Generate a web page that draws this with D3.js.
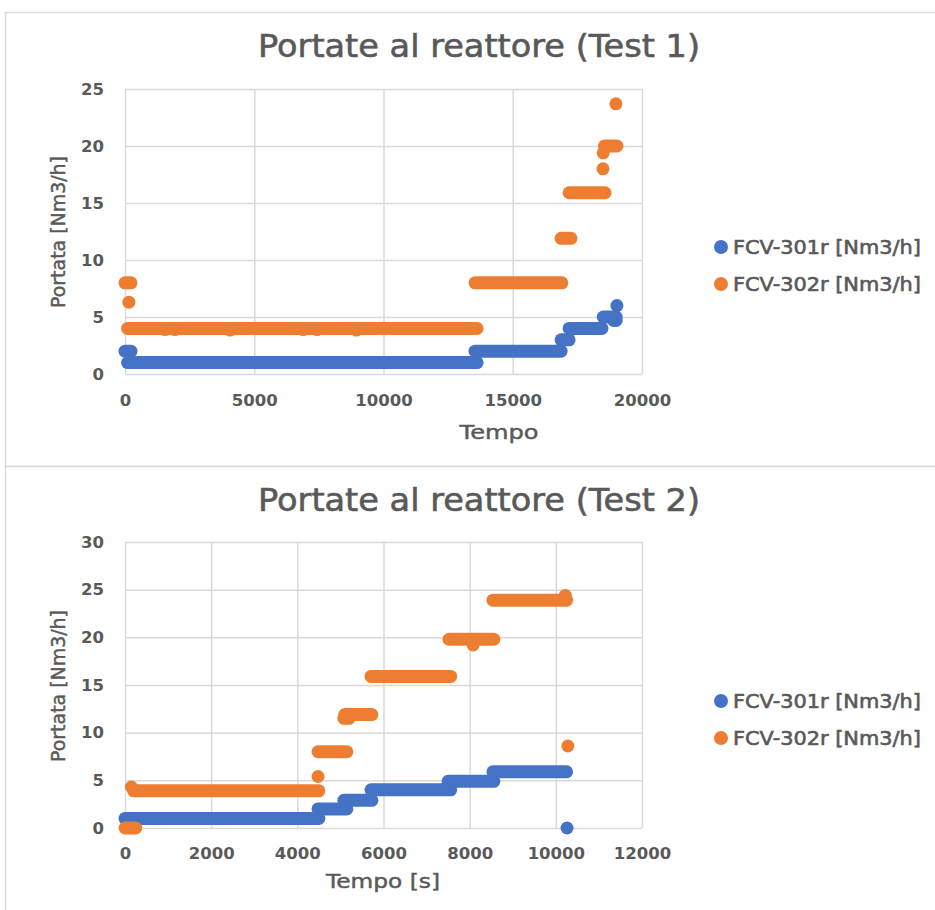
<!DOCTYPE html>
<html><head><meta charset="utf-8">
<script src="https://cdn.jsdelivr.net/npm/d3@7/dist/d3.min.js"></script>
<style>body{margin:0;background:#fff}svg{display:block}</style>
</head><body><svg id="c" width="935" height="910"></svg>
<script>
// ---------- data ----------
const seriesNames = ["FCV-301r [Nm3/h]", "FCV-302r [Nm3/h]"];
const seriesColors = ["#4472C4", "#ED7D31"];

// Runs of (near) constant readings: [tStart, tEnd, value]; single readings have tStart == tEnd
const test1Blue = [
  [0, 230, 2.0], [100, 13620, 1.0], [13540, 16870, 2.0], [16870, 17180, 3.0],
  [17180, 18450, 4.0], [18900, 19000, 4.7], [18500, 19000, 5.0], [19030, 19030, 6.0]
];
const test1Orange = [
  [0, 230, 8.0], [150, 150, 6.3], [100, 13620, 4.0],
  [1550, 1550, 3.9], [1930, 1930, 3.9], [4060, 4060, 3.85], [6890, 6890, 3.9], [7430, 7430, 3.9], [8950, 8950, 3.85],
  [13540, 16900, 8.0], [16870, 17250, 11.9], [17180, 18570, 15.9], [18490, 18490, 18.0],
  [18500, 18500, 19.4], [18550, 19030, 20.0], [18990, 18990, 23.7]
];
const test2Blue = [
  [0, 4500, 1.0], [4480, 5150, 2.0], [5080, 5730, 2.9], [5710, 7560, 4.0],
  [7500, 8560, 4.9], [8540, 10250, 5.9], [10260, 10260, 0.0]
];
const test2Orange = [
  [0, 250, 0.0], [150, 150, 4.3], [200, 4500, 3.9], [4480, 4480, 5.4], [4480, 5150, 8.0],
  [5080, 5200, 11.5], [5100, 5730, 11.9], [5710, 7560, 15.9], [7520, 8560, 19.8], [8080, 8080, 19.2],
  [8540, 10250, 23.9], [10220, 10220, 24.4], [10280, 10280, 8.6]
];
const test1XTicks = [0, 5000, 10000, 15000, 20000];
const test1YTicks = [0, 5, 10, 15, 20, 25];
const test2XTicks = [0, 2000, 4000, 6000, 8000, 10000, 12000];
const test2YTicks = [0, 5, 10, 15, 20, 25, 30];
const titles = ["Portate al reattore (Test 1)", "Portate al reattore (Test 2)"];
const xTitles = ["Tempo", "Tempo [s]"];
const yTitle = "Portata [Nm3/h]";

// ---------- drawing ----------
const svg = d3.select("#c");
const FONT = "'DejaVu Sans', sans-serif";
const TXT = "#595959";
const GRID = "#d9d9d9";

// panel frames
svg.append("rect").attr("x", 5.5).attr("y", 12.5).attr("width", 960).attr("height", 454)
  .attr("fill", "#fff").attr("stroke", GRID).attr("stroke-width", 1.5);
svg.append("rect").attr("x", 5.5).attr("y", 466.5).attr("width", 960).attr("height", 500)
  .attr("fill", "#fff").attr("stroke", GRID).attr("stroke-width", 1.5);

function heavy(sel, w) {
  return sel.attr("fill", TXT).attr("stroke", TXT).attr("stroke-width", w).style("font-family", FONT);
}

function drawChart(o) {
  const g = svg.append("g");
  const x = d3.scaleLinear().domain([o.xTicks[0], o.xTicks[o.xTicks.length - 1]]).range([125, 642]);
  const y = d3.scaleLinear().domain([o.yTicks[0], o.yTicks[o.yTicks.length - 1]]).range([o.y0, o.y1]);

  // gridlines via axes
  const gx = g.append("g").attr("transform", `translate(0,${o.y0})`)
    .call(d3.axisBottom(x).tickValues(o.xTicks).tickSize(-(o.y0 - o.y1)).tickFormat(d => d).tickPadding(20));
  const gy = g.append("g").attr("transform", `translate(125,0)`)
    .call(d3.axisLeft(y).tickValues(o.yTicks).tickSize(-(642 - 125)).tickFormat(d => d).tickPadding(21));
  [gx, gy].forEach(a => {
    a.select(".domain").remove();
    a.selectAll("line").attr("stroke", GRID).attr("stroke-width", 1.5);
    a.selectAll("text").attr("fill", TXT).style("font-family", FONT)
      .style("font-size", "16.5px").style("font-weight", "bold");
  });
  gx.selectAll("text").attr("dy", "0.35em").attr("y", o.xLabY - o.y0);

  // series
  const series = [o.blue, o.orange];
  series.forEach((runs, i) => {
    const sg = g.append("g");
    sg.selectAll("line").data(runs.filter(r => r[1] > r[0])).join("line")
      .attr("x1", d => x(d[0])).attr("x2", d => x(d[1]))
      .attr("y1", d => y(d[2])).attr("y2", d => y(d[2]))
      .attr("stroke", seriesColors[i]).attr("stroke-width", 13).attr("stroke-linecap", "round");
    sg.selectAll("circle").data(runs.filter(r => r[1] === r[0])).join("circle")
      .attr("cx", d => x(d[0])).attr("cy", d => y(d[2])).attr("r", 6.5)
      .attr("fill", seriesColors[i]);
  });

  // title
  heavy(g.append("text"), 0.6).attr("x", 479).attr("y", o.titleY).attr("text-anchor", "middle")
    .style("font-size", "32px")
    .attr("textLength", 442).attr("lengthAdjust", "spacingAndGlyphs").text(o.title);
  // x title
  heavy(g.append("text"), 0.45).attr("x", o.xTitleX).attr("y", o.xTitleY).attr("text-anchor", "middle")
    .style("font-size", "20px")
    .attr("textLength", o.xTitleLen).attr("lengthAdjust", "spacingAndGlyphs").text(o.xTitle);
  // y title
  heavy(g.append("text"), 0.45).attr("transform", `translate(65,${o.yTitleY}) rotate(-90)`).attr("text-anchor", "middle")
    .style("font-size", "20px")
    .attr("textLength", 152).attr("lengthAdjust", "spacingAndGlyphs").text(yTitle);

  // legend
  seriesNames.forEach((n, i) => {
    const ly = o.legY + i * 37;
    g.append("circle").attr("cx", 721).attr("cy", ly).attr("r", 7).attr("fill", seriesColors[i]);
    heavy(g.append("text"), 0.6).attr("x", 733).attr("y", ly).attr("dy", "0.36em")
      .style("font-size", "19px")
      .attr("textLength", 188).attr("lengthAdjust", "spacingAndGlyphs").text(n);
  });
}

drawChart({
  xTicks: test1XTicks, yTicks: test1YTicks, y0: 374, y1: 89, xLabY: 400,
  blue: test1Blue, orange: test1Orange, title: titles[0], titleY: 57,
  xTitle: xTitles[0], xTitleX: 499, xTitleY: 439, xTitleLen: 79, yTitleY: 232, legY: 247
});
drawChart({
  xTicks: test2XTicks, yTicks: test2YTicks, y0: 828, y1: 542, xLabY: 853,
  blue: test2Blue, orange: test2Orange, title: titles[1], titleY: 511,
  xTitle: xTitles[1], xTitleX: 383, xTitleY: 888, xTitleLen: 114, yTitleY: 686, legY: 701
});
</script></body></html>
